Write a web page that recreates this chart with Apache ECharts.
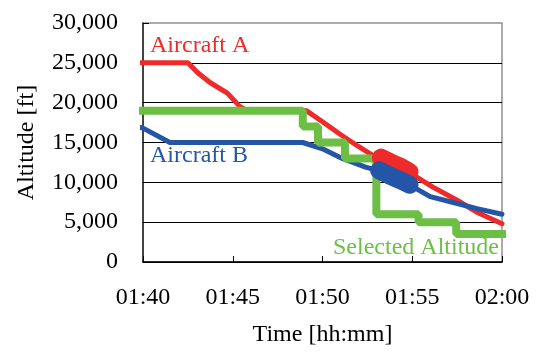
<!DOCTYPE html>
<html>
<head>
<meta charset="utf-8">
<script src="https://cdn.jsdelivr.net/npm/echarts@6/dist/echarts.min.js"></script>
<style>
html,body{margin:0;padding:0;background:#fff;}
#chart{width:538px;height:353px;}
</style>
</head>
<body>
<div id="chart"></div>
<script>
// Time in minutes after 00:00 (100 = 01:40)
const xTicks = [100, 105, 110, 115, 120];
const yTicks = [0, 5000, 10000, 15000, 20000, 25000, 30000];

const aTimes = [99.55, 100, 102.5, 103.05, 103.75, 104.7, 105.4, 105.8, 109.1, 110.0, 111.0, 112.0, 113.0, 114.0, 115.0, 116.15, 117.5, 118.6, 120];
const aAlts  = [25000, 25000, 25000, 23750, 22500, 21200, 19500, 19000, 19000, 17600, 16000, 14500, 13100, 12100, 11000, 9400, 7750, 6250, 4800];

const bTimes = [99.55, 100, 101.5, 108.9, 110.0, 111.1, 112.4, 113.2, 114.0, 115.0, 116.0, 117.4, 118.6, 120];
const bAlts  = [17100, 16800, 15000, 15000, 14200, 13000, 11900, 11400, 10600, 9500, 8200, 7400, 6700, 6000];

const selTimes = [99.55, 108.9, 109.75, 111.25, 113.0, 115.35, 117.45, 120.5];
const selAlts  = [19000, 17000, 15000, 13000, 6000, 5000, 3500, 3500];

const aBlobTimes = [113.25, 113.8, 114.4, 114.85];
const aBlobAlts  = [13100, 12500, 11900, 11300];
const bBlobTimes = [113.15, 113.7, 114.3, 114.85];
const bBlobAlts  = [11500, 10900, 10300, 9700];

const labelA = 'Aircraft A';
const labelB = 'Aircraft B';
const labelSel = 'Selected Altitude';

const RED = '#EE2A2A', BLUE = '#2455A6', GREEN = '#6CBE45';
const FONT = 'Liberation Serif';

function zip(t, v) { return t.map((x, i) => [x, v[i]]); }
function fmtTime(m) {
  const h = Math.floor(m / 60), mm = Math.round(m % 60);
  return String(h).padStart(2, '0') + ':' + String(mm).padStart(2, '0');
}

const chart = echarts.init(document.getElementById('chart'), null, {renderer: 'canvas'});
chart.setOption({
  animation: false,
  backgroundColor: '#fff',
  grid: {left: 143, right: 36, top: 23, bottom: 91, show: true, borderColor: '#909090', borderWidth: 1.5},
  xAxis: {
    type: 'value', min: xTicks[0], max: xTicks[xTicks.length - 1], interval: 5,
    name: 'Time [hh:mm]', nameLocation: 'middle', nameGap: 61,
    nameTextStyle: {fontFamily: FONT, fontSize: 24, color: '#000'},
    axisLine: {show: true, lineStyle: {color: '#000', width: 1.5}},
    axisTick: {show: true, inside: true, length: 6, lineStyle: {color: '#000'}},
    axisLabel: {fontFamily: FONT, fontSize: 24, color: '#000', margin: 24, formatter: v => fmtTime(v)},
    splitLine: {show: false}
  },
  yAxis: {
    type: 'value', min: yTicks[0], max: yTicks[yTicks.length - 1], interval: 5000,
    name: 'Altitude [ft]', nameLocation: 'middle', nameGap: 104,
    nameTextStyle: {fontFamily: FONT, fontSize: 24, color: '#000'},
    axisLine: {show: true, lineStyle: {color: '#222', width: 1.5}},
    axisTick: {show: true, inside: true, length: 6, lineStyle: {color: '#000'}},
    axisLabel: {fontFamily: FONT, fontSize: 24, color: '#000', margin: 25,
      formatter: v => v.toLocaleString('en-US')},
    splitLine: {show: true, showMaxLine: false, lineStyle: {color: '#000', width: 1}}
  },
  series: [
    {type: 'line', data: zip(aTimes, aAlts), showSymbol: false, clip: false, z: 2,
     lineStyle: {color: RED, width: 5, join: 'round', cap: 'round'}},
    {type: 'line', data: zip(bTimes, bAlts), showSymbol: false, clip: false, z: 3,
     lineStyle: {color: BLUE, width: 5, join: 'round', cap: 'round'}},
    {type: 'line', data: zip(selTimes, selAlts), step: 'end', showSymbol: false, clip: false, z: 4,
     lineStyle: {color: GREEN, width: 8}},
    {type: 'line', data: zip(aBlobTimes, aBlobAlts), showSymbol: false, clip: false, z: 5,
     lineStyle: {color: RED, width: 18, cap: 'round', join: 'round'}},
    {type: 'line', data: zip(bBlobTimes, bBlobAlts), showSymbol: false, clip: false, z: 6,
     lineStyle: {color: BLUE, width: 18, cap: 'round', join: 'round'}}
  ],
  graphic: [
    {type: 'text', left: 150, top: 34, z: 10,
     style: {text: labelA, font: '24px "Liberation Serif"', fill: RED}},
    {type: 'text', left: 150, top: 144, z: 10,
     style: {text: labelB, font: '24px "Liberation Serif"', fill: BLUE}},
    {type: 'text', left: 333, top: 236, z: 10,
     style: {text: labelSel, font: '24px "Liberation Serif"', fill: GREEN}}
  ]
});
</script>
</body>
</html>
